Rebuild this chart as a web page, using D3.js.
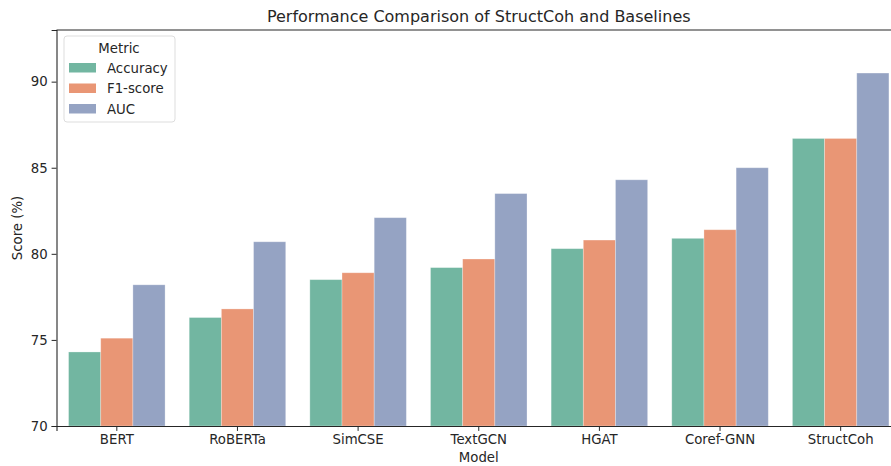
<!DOCTYPE html>
<html>
<head>
<meta charset="utf-8">
<script src="https://cdn.jsdelivr.net/npm/d3@7"></script>
<style>
  body { margin: 0; background: #fff; }
  text { font-family: "DejaVu Sans", sans-serif; fill: #262626; }
</style>
</head>
<body>
<div class="chart"></div>
<script>
var models = ["BERT", "RoBERTa", "SimCSE", "TextGCN", "HGAT", "Coref-GNN", "StructCoh"];
var metrics = ["Accuracy", "F1-score", "AUC"];
var accuracy = [74.3, 76.3, 78.5, 79.2, 80.3, 80.9, 86.7];
var f1score = [75.1, 76.8, 78.9, 79.7, 80.8, 81.4, 86.7];
var auc = [78.2, 80.7, 82.1, 83.5, 84.3, 85.0, 90.5];
var yTicks = [70, 75, 80, 85, 90];
var colors = ["#72b6a1", "#e99675", "#95a3c3"];

var svgWidth = 891;
var svgHeight = 466;
var margin = { top: 30, right: -10, bottom: 40, left: 56.5 };
var width = svgWidth - margin.left - margin.right;
var height = svgHeight - margin.top - margin.bottom;

var svg = d3.select(".chart").append("svg")
  .attr("width", svgWidth)
  .attr("height", svgHeight);

var chartGroup = svg.append("g")
  .attr("transform", `translate(${margin.left}, ${margin.top})`);

var series = [accuracy, f1score, auc];
var rows = [];
models.forEach(function(m, i) {
  metrics.forEach(function(k, j) {
    rows.push({ model: m, metric: k, value: series[j][i] });
  });
});

// one band per model, bars fill 0.8 of it
var x0 = d3.scaleBand().domain(models).range([0, width]).padding(0);
var groupW = x0.bandwidth() * 0.8;
var x1 = d3.scaleBand().domain(metrics).range([0, groupW]).padding(0);
var y = d3.scaleLinear().domain([70, 93]).range([height, 0]);

// bars
chartGroup.selectAll("rect.bar")
  .data(rows)
  .enter()
  .append("rect")
  .attr("class", "bar")
  .attr("x", d => x0(d.model) + x0.bandwidth() * 0.1 + x1(d.metric))
  .attr("y", d => y(d.value))
  .attr("width", x1.bandwidth())
  .attr("height", d => height - y(d.value))
  .attr("fill", d => colors[metrics.indexOf(d.metric)])
  .attr("stroke", "#ffffff")
  .attr("stroke-opacity", 0.35)
  .attr("stroke-width", 0.8);

// axes
var bottomAxis = d3.axisBottom(x0).tickSizeOuter(0).tickSize(4.9).tickPadding(4);
var leftAxis = d3.axisLeft(y).tickValues(yTicks).tickSizeOuter(0).tickSize(4.9).tickPadding(4);

var xAxis = chartGroup.append("g")
  .attr("transform", `translate(0, ${height})`)
  .call(bottomAxis);
var yAxis = chartGroup.append("g").call(leftAxis);

[xAxis, yAxis].forEach(function(a) {
  a.selectAll("text").style("font-size", "13.3px").style("fill", "#262626");
  a.selectAll("line").attr("stroke", "#262626");
  a.select(".domain").attr("stroke", "#262626").attr("stroke-width", 1.1);
});

// top and right spines
chartGroup.append("line")
  .attr("x1", 0).attr("x2", width).attr("y1", 0).attr("y2", 0)
  .attr("stroke", "#262626").attr("stroke-width", 1.1);
chartGroup.append("line")
  .attr("x1", width).attr("x2", width).attr("y1", 0).attr("y2", height)
  .attr("stroke", "#262626").attr("stroke-width", 1.1);

// title and labels
svg.append("text")
  .attr("x", margin.left + width / 2)
  .attr("y", 22)
  .attr("text-anchor", "middle")
  .style("font-size", "16px")
  .text("Performance Comparison of StructCoh and Baselines");

svg.append("text")
  .attr("x", margin.left + width / 2)
  .attr("y", 462)
  .attr("text-anchor", "middle")
  .style("font-size", "13.3px")
  .text("Model");

svg.append("text")
  .attr("transform", `translate(22, ${margin.top + height / 2}) rotate(-90)`)
  .attr("text-anchor", "middle")
  .style("font-size", "13.3px")
  .text("Score (%)");

// legend
var legend = svg.append("g").attr("transform", "translate(64, 36)");
legend.append("rect")
  .attr("width", 111).attr("height", 86).attr("rx", 3)
  .attr("fill", "#ffffff").attr("fill-opacity", 0.8)
  .attr("stroke", "#dddddd");
legend.append("text")
  .attr("x", 55).attr("y", 17)
  .attr("text-anchor", "middle")
  .style("font-size", "13.3px")
  .text("Metric");
metrics.forEach(function(k, j) {
  var row = legend.append("g").attr("transform", `translate(5, ${27 + j * 20.5})`);
  row.append("rect").attr("width", 27).attr("height", 9.5).attr("fill", colors[j]);
  row.append("text").attr("x", 38).attr("y", 9.5).style("font-size", "13.3px").text(k);
});
</script>
</body>
</html>
